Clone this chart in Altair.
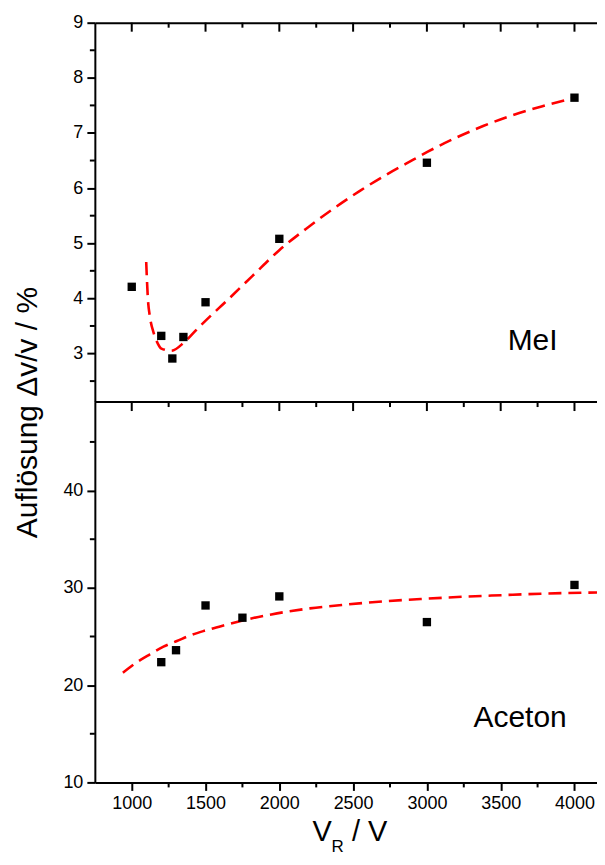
import altair as alt
import pandas as pd

# ---------------- data ----------------
mei_x = [1000, 1200, 1275, 1350, 1500, 2000, 3000, 4000]
mei_y = [4.21, 3.32, 2.91, 3.30, 3.93, 5.08, 6.46, 7.64]

mei_fit_x = [1098, 1110, 1123, 1149, 1175, 1201, 1267, 1358, 1449, 1541, 1633,
             1815, 1998, 2180, 2363, 2546, 2729, 2911, 3006, 3202, 3385, 3567,
             3777, 4007]
mei_fit_y = [4.66, 3.97, 3.67, 3.37, 3.19, 3.09, 3.05, 3.21, 3.46, 3.70, 3.93,
             4.40, 4.87, 5.26, 5.62, 5.95, 6.25, 6.52, 6.66, 6.92, 7.13, 7.31,
             7.48, 7.64]

ace_x = [1200, 1300, 1500, 1750, 2000, 3000, 4000]
ace_y = [22.36, 23.59, 28.19, 26.93, 29.12, 26.48, 30.30]

ace_fit_x = [940, 1031, 1123, 1215, 1306, 1397, 1502, 1633, 1763, 1946, 2207,
             2468, 2729, 2990, 3251, 3513, 3774, 4200]
ace_fit_y = [21.28, 22.32, 23.17, 23.96, 24.53, 25.12, 25.63, 26.18, 26.69,
             27.27, 27.89, 28.30, 28.64, 28.88, 29.09, 29.25, 29.40, 29.53]

x_major = [1000, 1500, 2000, 2500, 3000, 3500, 4000]
x_minor = [1250, 1750, 2250, 2750, 3250, 3750]
mei_major = [3, 4, 5, 6, 7, 8, 9]
mei_minor = [2.5, 3.5, 4.5, 5.5, 6.5, 7.5, 8.5]
ace_major = [10, 20, 30, 40]
ace_minor = [15, 25, 35, 45]

x_domain = [750, 4200]
mei_domain = [2.12, 9]
ace_domain = [10, 49.1]

label_mei = "MeI"
label_ace = "Aceton"
y_title = "Auflösung Δv/v / %"

# ---------------- layout / style ----------------
W, H1, H2 = 510, 380, 381
FONT = "Liberation Sans"
RED = "#ff0000"

xs = alt.Scale(domain=x_domain, nice=False, zero=False)
ys1 = alt.Scale(domain=mei_domain, nice=False, zero=False)
ys2 = alt.Scale(domain=ace_domain, nice=False, zero=False)

common_axis = dict(grid=False, domainColor="black", domainWidth=2,
                   tickColor="black", tickWidth=2, labelColor="black",
                   labelFont=FONT, labelFontSize=18, labelFlush=False)

ax_top = alt.Axis(orient="top", ticks=False, labels=False, title=None, **common_axis)
ay_top = alt.Axis(orient="left", values=mei_major, tickSize=8, labelPadding=4,
                  format="d", title=y_title, titleFont=FONT, titleFontSize=30,
                  titleFontWeight="normal", titleColor="black", titleAngle=270,
                  titleAlign="center", titleBaseline="bottom", titleX=-52,
                  titleY=390, **common_axis)
ax_bot = alt.Axis(orient="bottom", values=x_major, tickSize=8, labelPadding=4,
                  format="d", title=None, **common_axis)
ay_bot = alt.Axis(orient="left", values=ace_major, tickSize=8, labelPadding=4,
                  format="d", title=None, **common_axis)


def panel(px, py, fx, fy, major, minor, yscale, xaxis, yaxis, height, label,
          label_pos, bottom):
    pts = pd.DataFrame({"x": px, "y": py})
    fit = pd.DataFrame({"x": fx, "y": fy})
    xmaj = pd.DataFrame({"x": x_major})
    xmin = pd.DataFrame({"x": x_minor})
    ymaj = pd.DataFrame({"y": major})
    ymin = pd.DataFrame({"y": minor})

    X = alt.X("x:Q", scale=xs, axis=xaxis)
    Y = alt.Y("y:Q", scale=yscale, axis=yaxis)

    layers = []
    layers.append(alt.Chart(fit).mark_line(color=RED, strokeWidth=2.6,
                                           strokeDash=[13, 7], clip=True,
                                           interpolate="monotone")
                  .encode(x=X, y=Y))
    layers.append(alt.Chart(pts).mark_square(size=70, color="black", opacity=1)
                  .encode(x=X, y=Y))
    # inward ticks at top edge
    layers.append(alt.Chart(xmaj).mark_rule(color="black", strokeWidth=2)
                  .encode(x=X, y=alt.value(0), y2=alt.value(9)))
    layers.append(alt.Chart(xmin).mark_rule(color="black", strokeWidth=2)
                  .encode(x=X, y=alt.value(0), y2=alt.value(5)))
    # left minor ticks (outward)
    layers.append(alt.Chart(ymin).mark_rule(color="black", strokeWidth=2)
                  .encode(y=Y, x=alt.value(-5), x2=alt.value(0)))
    # right inward ticks (right frame lies just outside the picture)
    layers.append(alt.Chart(ymaj).mark_rule(color="black", strokeWidth=2)
                  .encode(y=Y, x=alt.value(W - 3), x2=alt.value(W)))
    # panel label
    layers.append(alt.Chart(pd.DataFrame({"t": [label]}))
                  .mark_text(font=FONT, fontSize=30, color="black",
                             align="center", baseline="alphabetic")
                  .encode(text="t:N", x=alt.value(label_pos[0]),
                          y=alt.value(label_pos[1])))
    if bottom:
        # divider line at top of lower panel
        layers.append(alt.Chart(pd.DataFrame({"y": [ace_domain[1]]}))
                      .mark_rule(color="black", strokeWidth=2)
                      .encode(y=Y, x=alt.value(0), x2=alt.value(W)))
        # bottom minor ticks (outward)
        layers.append(alt.Chart(xmin).mark_rule(color="black", strokeWidth=2)
                      .encode(x=X, y=alt.value(height), y2=alt.value(height + 5)))
        # x axis title  V_R / V
        for txt, size, xx, yy in [("V", 29, 218, 440), ("R", 17, 237, 451),
                                  ("/ V", 29, 257.5, 440)]:
            layers.append(alt.Chart(pd.DataFrame({"t": [txt]}))
                          .mark_text(font=FONT, fontSize=size, color="black",
                                     align="left", baseline="alphabetic")
                          .encode(text="t:N", x=alt.value(xx), y=alt.value(yy)))
    return alt.layer(*layers).properties(width=W, height=height)


top = panel(mei_x, mei_y, mei_fit_x, mei_fit_y, mei_major, mei_minor, ys1,
            ax_top, ay_top, H1, label_mei, (438.5, 328), False)
bot = panel(ace_x, ace_y, ace_fit_x, ace_fit_y, ace_major, ace_minor, ys2,
            ax_bot, ay_bot, H2, label_ace, (426, 325), True)

chart = (alt.vconcat(top, bot, spacing=0, bounds="flush")
         .properties(padding={"left": 5, "top": 5, "right": -8, "bottom": 0},
                     background="white")
         .configure_view(stroke=None))

chart.save("out.html", embed_options={"renderer": "svg", "actions": False})
